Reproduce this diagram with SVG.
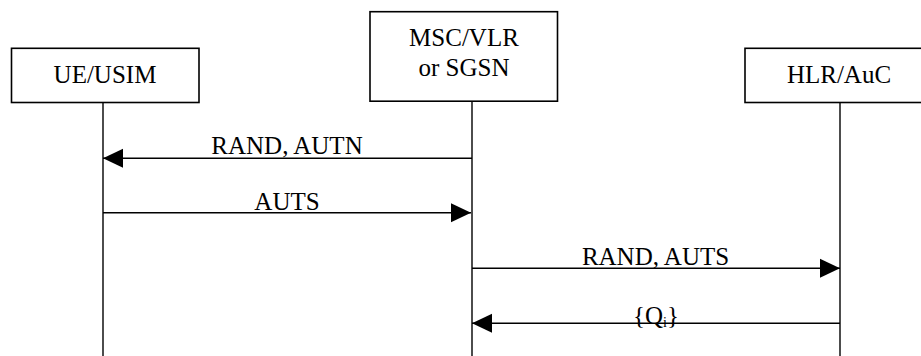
<svg xmlns="http://www.w3.org/2000/svg" width="921" height="356" viewBox="0 0 921 356">
<style>
.box{fill:#fff;stroke:#000;stroke-width:1.6}
.life{stroke:#000;stroke-width:1.4;fill:none}
.msg{stroke:#000;stroke-width:1.6;fill:none}
text{font-family:"Liberation Serif","Times New Roman",serif;font-size:25px;fill:#000;text-anchor:middle}
</style>
<defs>
<marker id="ah" markerUnits="userSpaceOnUse" markerWidth="20" markerHeight="20" viewBox="0 0 20 20" refX="20" refY="10" orient="auto">
<path d="M0,0.5 L20,10 L0,19.5 Z" fill="#000"/>
</marker>
</defs>
<rect width="921" height="356" fill="#fff"/>
<g id="lifelines">
<line class="life" x1="103" y1="102" x2="103" y2="356"/>
<line class="life" x1="472" y1="101" x2="472" y2="356"/>
<line class="life" x1="840" y1="102" x2="840" y2="356"/>
</g>
<g id="ue">
<rect class="box" x="11.5" y="48.3" width="187.5" height="54.2"/>
<text x="105" y="82.5">UE/USIM</text>
</g>
<g id="msc">
<rect class="box" x="370" y="11.7" width="187.5" height="89.5"/>
<text x="464" y="45.5">MSC/VLR</text>
<text x="464" y="76">or SGSN</text>
</g>
<g id="hlr">
<rect class="box" x="745" y="48.3" width="190" height="54.2"/>
<text x="839" y="82.5">HLR/AuC</text>
</g>
<g id="connectors">
<line class="msg" x1="472" y1="158.3" x2="103" y2="158.3" marker-end="url(#ah)"/>
<text x="287" y="153.5">RAND, AUTN</text>
<line class="msg" x1="103" y1="212.7" x2="471" y2="212.7" marker-end="url(#ah)"/>
<text x="287" y="209.5">AUTS</text>
<line class="msg" x1="472" y1="268.3" x2="840" y2="268.3" marker-end="url(#ah)"/>
<text x="655.5" y="264.5">RAND, AUTS</text>
<line class="msg" x1="840" y1="323.3" x2="472" y2="323.3" marker-end="url(#ah)"/>
<text x="656" y="324">{Q<tspan font-size="14" dy="3">i</tspan><tspan dy="-3">}</tspan></text>
</g>
</svg>
